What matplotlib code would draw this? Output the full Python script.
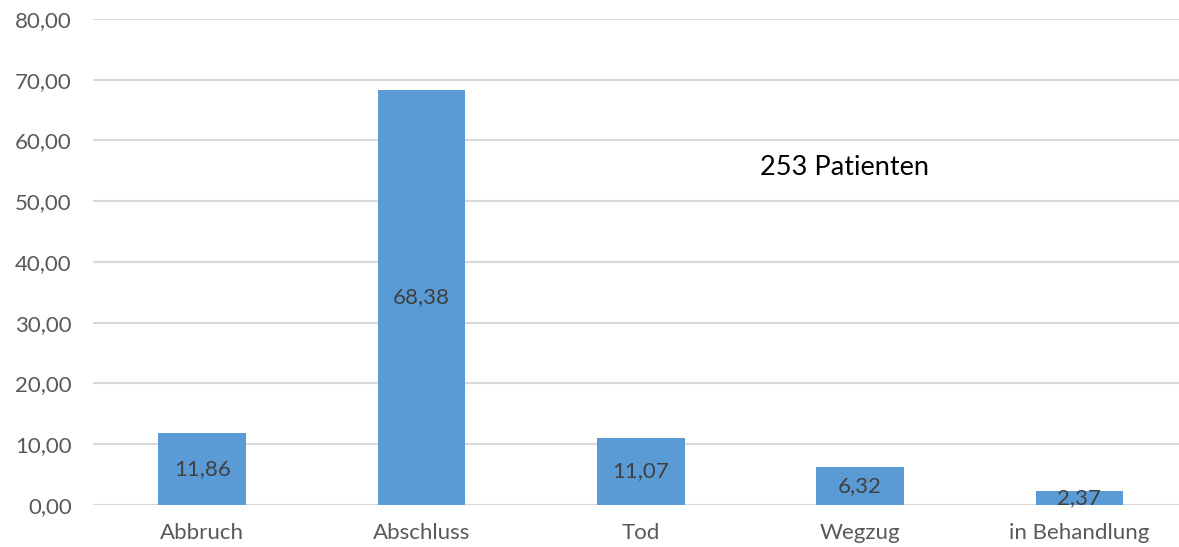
import matplotlib.pyplot as plt
import numpy as np

# Anteile in Prozent
categories = ['Abbruch', 'Abschluss', 'Tod', 'Wegzug', 'in Behandlung']
values = [11.86, 68.38, 11.07, 6.32, 2.37]
yticks = [0, 10, 20, 30, 40, 50, 60, 70, 80]
note = '253 Patienten'

plt.rcParams['font.family'] = ['Lato', 'DejaVu Sans']

fig = plt.figure(figsize=(11.79, 5.47), dpi=100)
ax = fig.add_axes([0.0785, 0.0768, 0.930, 0.8885])

x = np.arange(len(categories))
bars = ax.bar(x, values, width=0.40, color='#5B9BD5', zorder=3)

for b, v in zip(bars, values):
    ax.text(b.get_x() + b.get_width() / 2, v / 2, f'{v:.2f}'.replace('.', ','),
            ha='center', va='center', fontsize=16, color='#404040', zorder=4)

ax.set_xlim(-0.5, len(categories) - 0.5)
ax.set_ylim(0, 80)
ax.set_yticks(yticks)
ax.set_yticklabels([f'{t:.2f}'.replace('.', ',') for t in yticks])
ax.set_xticks(x)
ax.set_xticklabels(categories)
ax.tick_params(axis='both', length=0, labelsize=16, labelcolor='#595959')
ax.tick_params(axis='y', pad=15)
ax.tick_params(axis='x', pad=13)

ax.grid(axis='y', color='#D9D9D9', linewidth=1.5, zorder=0)
for s in ax.spines.values():
    s.set_visible(False)

ax.text(2.93, 55.5, note, ha='center', va='center', fontsize=19.5, color='black')

plt.savefig('out.png', dpi=100)
